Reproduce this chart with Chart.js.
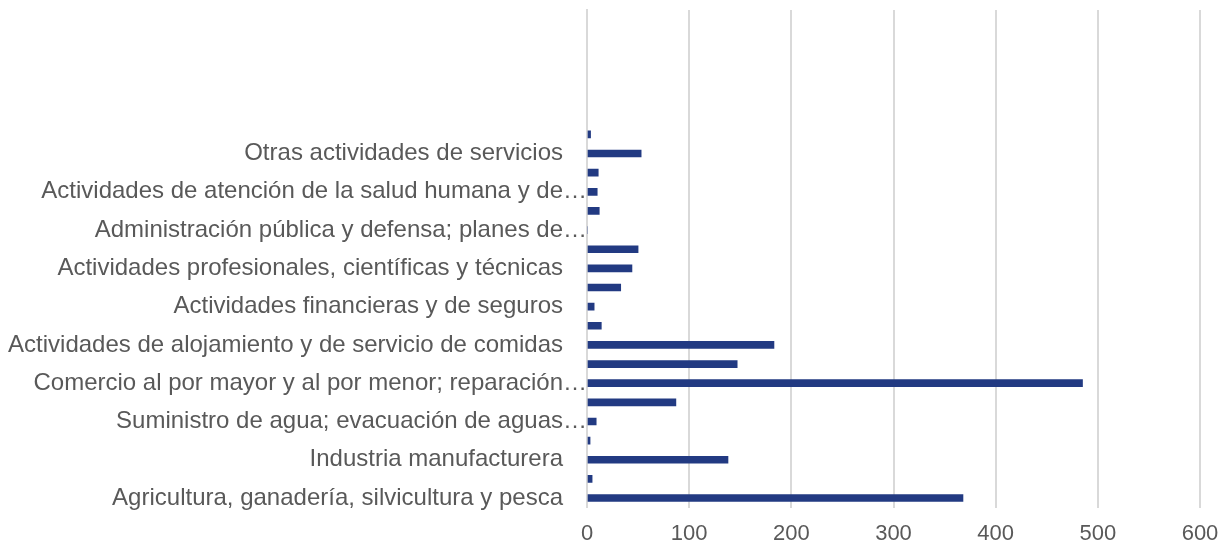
<!DOCTYPE html>
<html>
<head>
<meta charset="utf-8">
<script src="https://cdn.jsdelivr.net/npm/chart.js@4.4.1/dist/chart.umd.min.js"></script>
<style>
  html, body { margin: 0; padding: 0; background: #ffffff; }
  #wrap { width: 1222px; height: 548px; position: relative; }
</style>
</head>
<body>
<div id="wrap"><canvas id="c"></canvas></div>
<script>
const categories = [
  "Agricultura, ganadería, silvicultura y pesca",
  "Explotación de minas y canteras",
  "Industria manufacturera",
  "Suministro de electricidad, gas, vapor y aire acondicionado",
  "Suministro de agua; evacuación de aguas…",
  "Construcción",
  "Comercio al por mayor y al por menor; reparación…",
  "Transporte y almacenamiento",
  "Actividades de alojamiento y de servicio de comidas",
  "Información y comunicaciones",
  "Actividades financieras y de seguros",
  "Actividades inmobiliarias",
  "Actividades profesionales, científicas y técnicas",
  "Actividades de servicios administrativos y de apoyo",
  "Administración pública y defensa; planes de…",
  "Enseñanza",
  "Actividades de atención de la salud humana y de…",
  "Actividades artísticas, de entretenimiento y recreativas",
  "Otras actividades de servicios",
  "Actividades de los hogares",
  "", "", "", "", "", ""
];
const values = [368, 5, 138, 3, 9, 87, 485, 147, 183, 14, 7, 33, 44, 50, 0, 12, 10, 11, 53, 3.5,
                null, null, null, null, null, null];
const xTicks = [0, 100, 200, 300, 400, 500, 600];

const FONT = "'Liberation Sans', Arial, sans-serif";
const TEXT = '#595959';

new Chart(document.getElementById('c'), {
  type: 'bar',
  data: {
    labels: categories,
    datasets: [{
      data: values,
      backgroundColor: '#223a82',
      borderWidth: 0,
      barThickness: 7
    }]
  },
  options: {
    indexAxis: 'y',
    responsive: true,
    maintainAspectRatio: false,
    animation: false,
    layout: { padding: { top: 10, right: 22, bottom: 3, left: 0 } },
    plugins: { legend: { display: false }, tooltip: { enabled: false } },
    scales: {
      x: {
        min: 0, max: 600,
        afterBuildTicks: (s) => { s.ticks = xTicks.map(v => ({ value: v })); },
        afterFit: (s) => { s.height = 37.4; s.paddingLeft = 0; s.paddingRight = 0; },
        grid: { color: '#d9d9d9', lineWidth: 2, drawTicks: false },
        border: { display: false },
        ticks: { color: TEXT, font: { family: FONT, size: 22 }, padding: 13 }
      },
      y: {
        reverse: true,
        afterFit: (s) => { s.width = 587; s.paddingTop = 0; s.paddingBottom = 0; },
        grid: { display: false, drawTicks: false },
        border: { display: true, color: '#d9d9d9', width: 2 },
        ticks: {
          autoSkip: false,
          color: TEXT,
          font: { family: FONT, size: 24 },
          padding: 0,
          callback: function (v, i) {
            if (i % 2 !== 0) return '';
            const l = this.getLabelForValue(v);
            if (!l) return '';
            return l.endsWith('…') ? l : l + '\u2003';
          }
        }
      }
    }
  }
});
</script>
</body>
</html>
